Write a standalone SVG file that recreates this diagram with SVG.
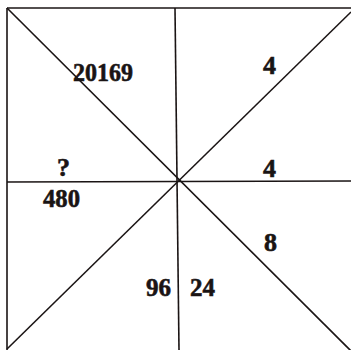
<svg xmlns="http://www.w3.org/2000/svg" width="351" height="350" viewBox="0 0 351 350">
<style>
.l{stroke:#1a1414;stroke-width:1.6;fill:none}
.t{font-family:"Liberation Serif","Times New Roman",serif;font-weight:bold;font-size:26px;fill:#1a1414;stroke:#1a1414;stroke-width:0.6}
</style>
<rect width="351" height="350" fill="#fff"/>
<g id="connectors">
<line class="l" x1="7" y1="8" x2="351" y2="8"/>
<line class="l" x1="7" y1="8" x2="7" y2="350"/>
<line class="l" x1="175" y1="8" x2="179" y2="350"/>
<line class="l" x1="7" y1="182" x2="351" y2="181"/>
<line class="l" x1="7" y1="8" x2="351" y2="351"/>
<line class="l" x1="351" y1="12" x2="7" y2="349"/>
</g>
<g id="labels">
<text class="t" x="73" y="81" textLength="60" lengthAdjust="spacingAndGlyphs">20169</text>
<text class="t" x="263" y="74">4</text>
<text class="t" x="57" y="176">?</text>
<text class="t" x="263" y="177">4</text>
<text class="t" x="43" y="207" textLength="37" lengthAdjust="spacingAndGlyphs">480</text>
<text class="t" x="264" y="251">8</text>
<text class="t" x="146" y="296" textLength="25" lengthAdjust="spacingAndGlyphs">96</text>
<text class="t" x="190" y="296" textLength="25" lengthAdjust="spacingAndGlyphs">24</text>
</g>
</svg>
